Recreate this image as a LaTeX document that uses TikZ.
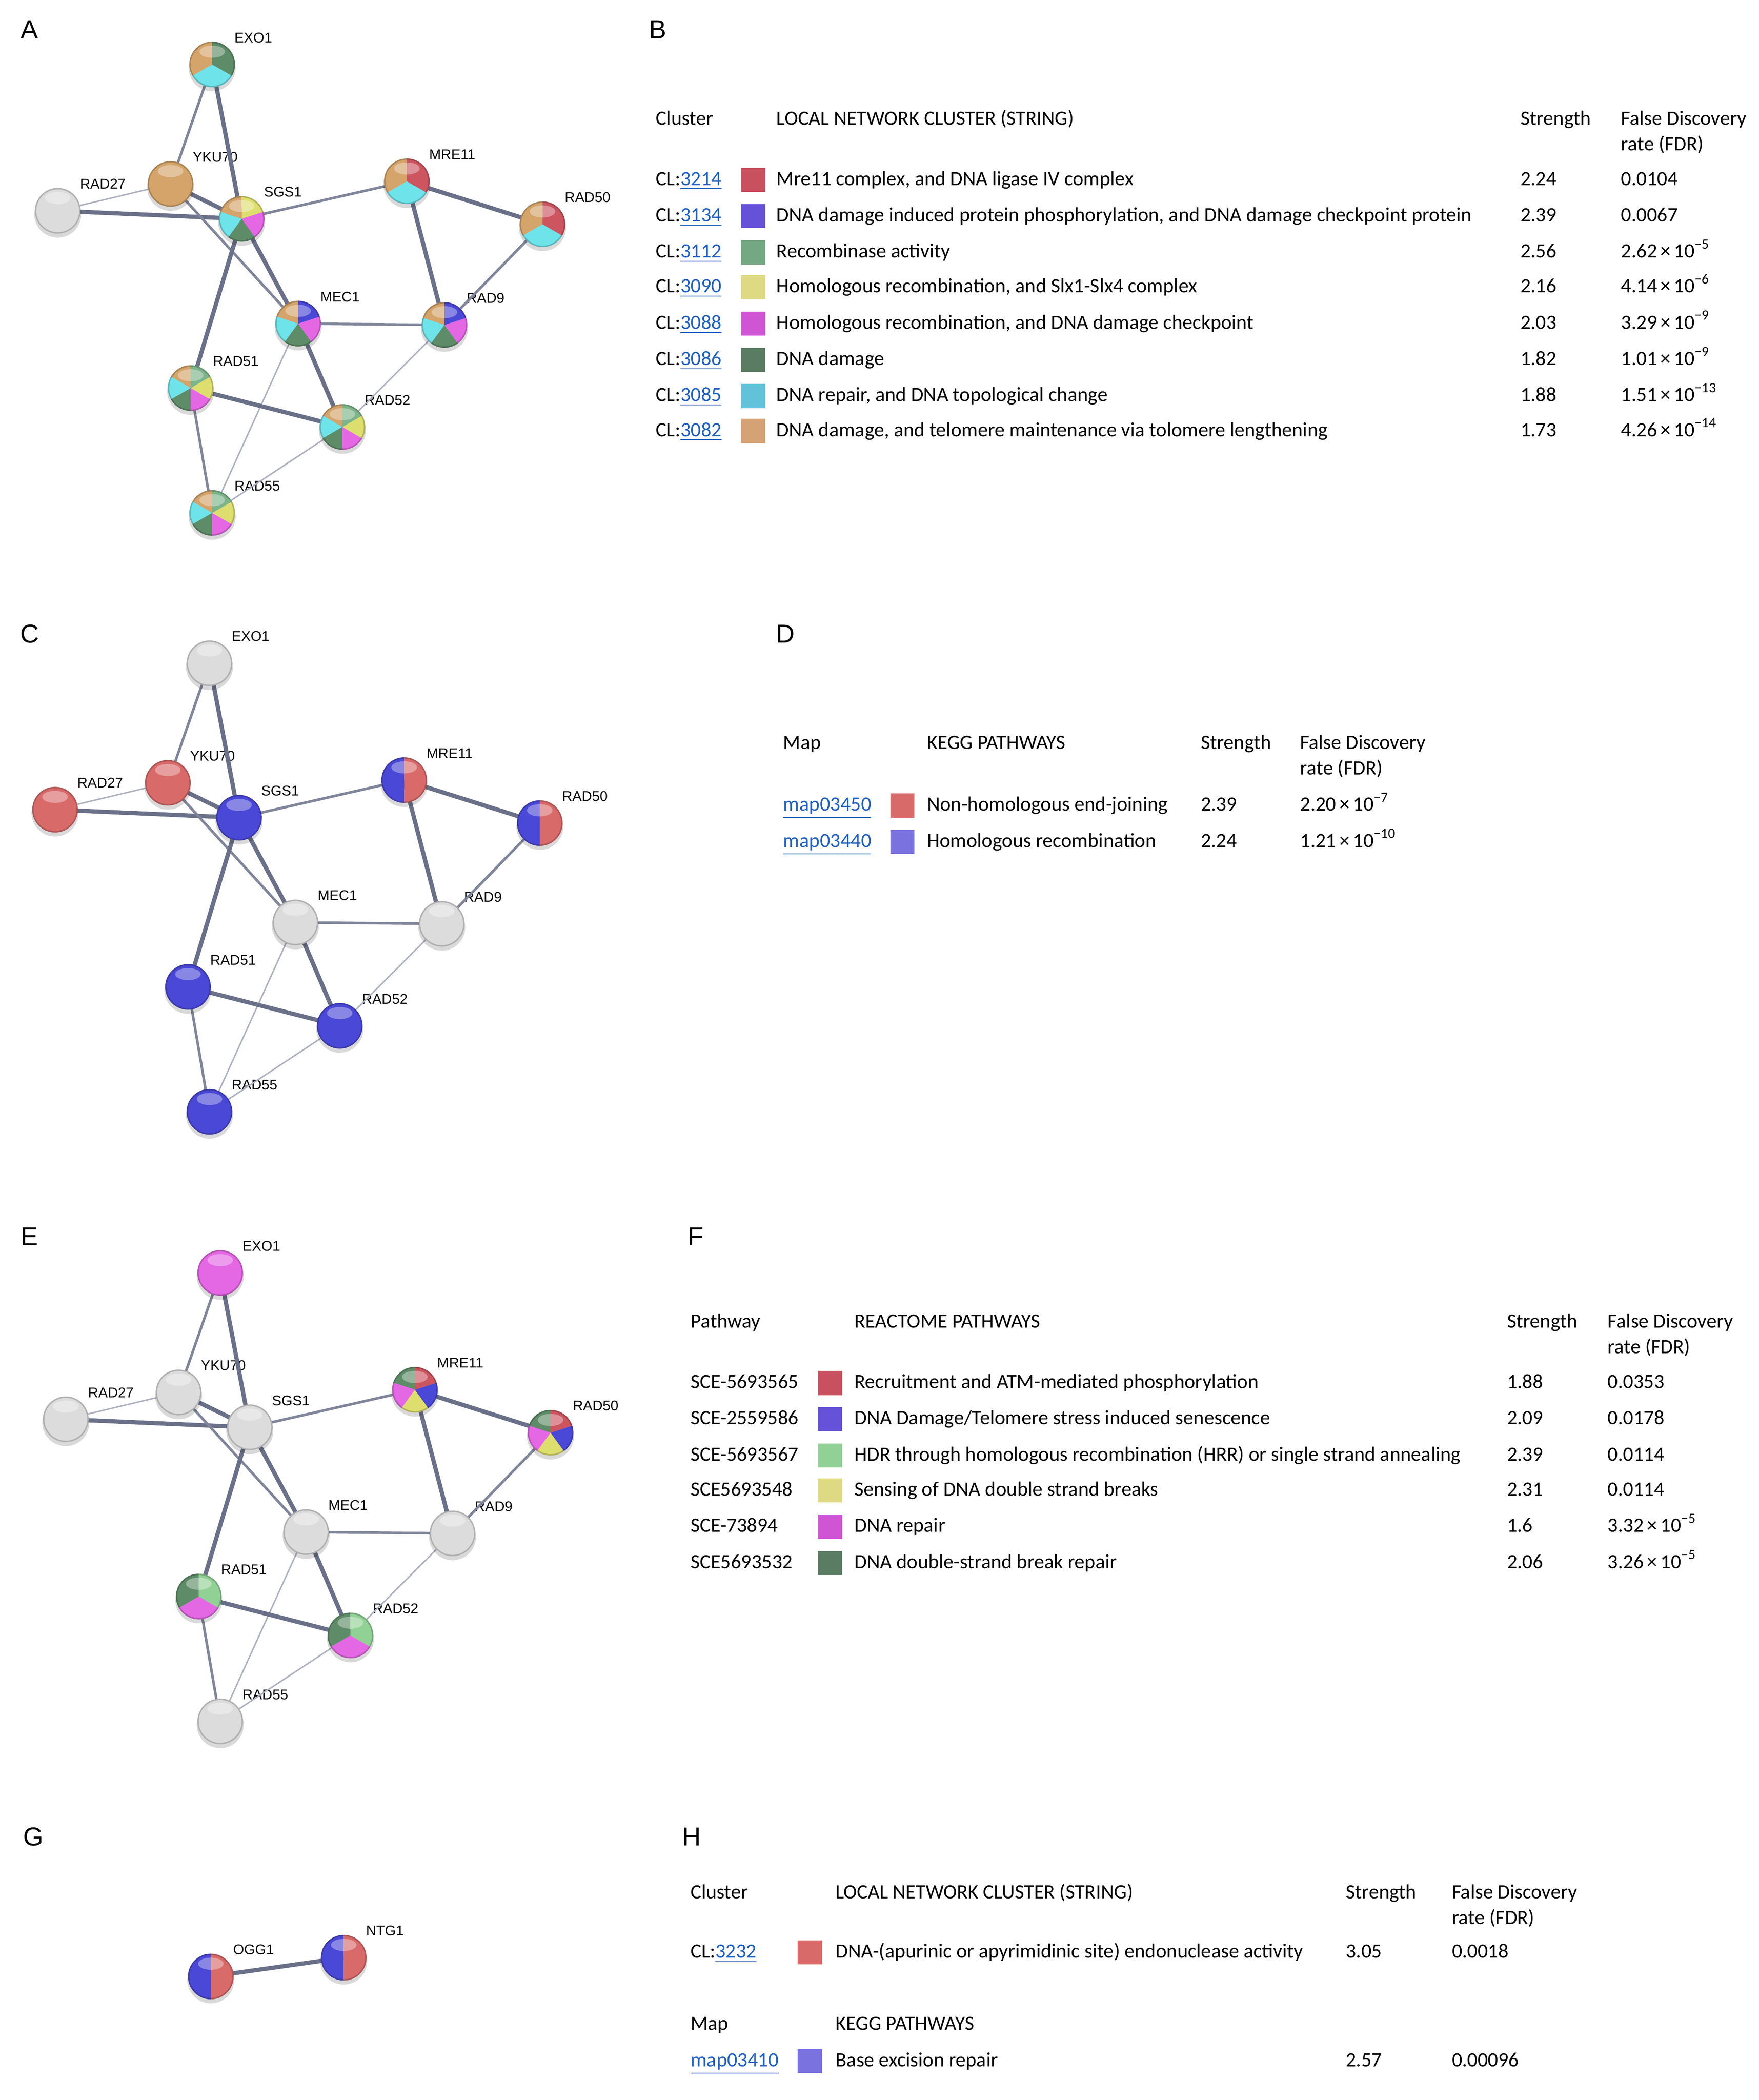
\documentclass[tikz,border=0pt]{standalone}
\usepackage{fontspec}
\setmainfont{Carlito}
\newfontfamily\arialf{Liberation Sans}
\begin{document}
\definecolor{cTan}{HTML}{D4A46A}
\definecolor{cCyan}{HTML}{6FE3EA}
\definecolor{cGreen}{HTML}{7DB48A}
\definecolor{cDkGreen}{HTML}{5E8C68}
\definecolor{cRed}{HTML}{CC5560}
\definecolor{cBlue}{HTML}{4A48D6}
\definecolor{cMag}{HTML}{E467E4}
\definecolor{cYel}{HTML}{DEDE6E}
\definecolor{cGrey}{HTML}{DCDCDC}
\definecolor{sRed}{HTML}{C9505F}
\definecolor{sBlue}{HTML}{6652D8}
\definecolor{sGreen}{HTML}{74A882}
\definecolor{sLGreen}{HTML}{92D196}
\definecolor{sYel}{HTML}{DEDA84}
\definecolor{sMag}{HTML}{D055D4}
\definecolor{sDk}{HTML}{5A7C62}
\definecolor{sCyan}{HTML}{62C2DA}
\definecolor{sTan}{HTML}{D4A274}
\definecolor{kRed}{HTML}{D96A6A}
\definecolor{kBlue}{HTML}{7A72DE}
\definecolor{lnk}{HTML}{1F5FC0}
\definecolor{edge}{HTML}{6A7088}
\def\R{0.34cm}
\begin{tikzpicture}[x=0.02cm,y=-0.02cm,
  nd/.style={circle,inner sep=0pt,minimum size=0.68cm},
  lab/.style={font=\arialf\fontsize{6}{7}\selectfont,anchor=west,inner sep=1pt},
  thick/.style={draw=edge,line width=1.8pt},
  med/.style={draw=edge!85,line width=1.1pt},
  thin/.style={draw=edge!55,line width=0.6pt},
  tx/.style={font=\fontsize{8.6}{10}\selectfont,anchor=base west,inner sep=0pt},
  letter/.style={font=\arialf\fontsize{11}{12}\selectfont,anchor=center},
  sw/.style={minimum size=0.36cm,inner sep=0pt}]
\useasboundingbox (0,0) rectangle (1310,1564);
\fill[white] (0,0) rectangle (1310,1564);

\newcommand\netw[3]{%
 \foreach \n/\x/\y in {EXO1/158/48, YKU70/127/137, RAD27/43/157, SGS1/180/163, MRE11/303/135, RAD50/404/167, MEC1/222/241, RAD9/331/242, RAD51/142/289, RAD52/255/318, RAD55/158/382}{%
   \node[nd] (#1\n) at (\x+#2,\y+#3) {};
   \node[lab] (#1\n-l) at ([xshift=0.29cm,yshift=0.4cm]#1\n.center) {\n};}
 \foreach \a/\b/\w in {EXO1/YKU70/med, EXO1/SGS1/thick, RAD27/YKU70/thin, RAD27/SGS1/thick, YKU70/SGS1/thick, YKU70/MEC1/med, SGS1/MEC1/thick, SGS1/MRE11/med, SGS1/RAD51/thick, MRE11/RAD50/thick, MRE11/RAD9/thick, RAD50/RAD9/med, MEC1/RAD9/med, MEC1/RAD52/thick, MEC1/RAD55/thin, RAD9/RAD52/thin, RAD51/RAD52/thick, RAD51/RAD55/med, RAD52/RAD55/thin}{%
   \draw[\w] (#1\a.center) -- (#1\b.center);}}
\newcommand\pie[2]{%
 \fill[black,opacity=0.15] ([yshift=-0.05cm]#1.center) circle[radius=0.35cm];
 \foreach \a/\b/\c in {#2}{\fill[\c] (#1.center) -- ++(\a:\R) arc[start angle=\a,end angle=\b,radius=\R] -- cycle;}
 \fill[white,opacity=0.35] ([yshift=0.19cm]#1.center) ellipse[x radius=0.19cm,y radius=0.09cm];
 \draw[black,opacity=0.2,line width=0.6pt] (#1.center) circle[radius=0.33cm];}
\newcommand\gball[1]{\pie{#1}{0/360/cGrey}}

% ---------- A ----------
\node[letter] (LA) at (22,22) {A};
\netw{a}{0}{0}
\pie{aEXO1}{90/210/cTan,210/330/cCyan,-30/90/cDkGreen}
\pie{aYKU70}{0/360/cTan}
\gball{aRAD27}
\pie{aSGS1}{90/162/cTan,162/234/cCyan,234/306/cDkGreen,306/378/cMag,18/90/cYel}
\pie{aMRE11}{90/210/cTan,210/330/cCyan,-30/90/cRed}
\pie{aRAD50}{90/210/cTan,210/330/cCyan,-30/90/cRed}
\pie{aMEC1}{90/162/cTan,162/234/cCyan,234/306/cDkGreen,306/378/cMag,18/90/cBlue}
\pie{aRAD9}{90/162/cTan,162/234/cCyan,234/306/cDkGreen,306/378/cMag,18/90/cBlue}
\pie{aRAD51}{90/150/cTan,150/210/cCyan,210/270/cDkGreen,270/330/cMag,330/390/cYel,30/90/cGreen}
\pie{aRAD52}{90/150/cTan,150/210/cCyan,210/270/cDkGreen,270/330/cMag,330/390/cYel,30/90/cGreen}
\pie{aRAD55}{90/150/cTan,150/210/cCyan,210/270/cDkGreen,270/330/cMag,330/390/cYel,30/90/cGreen}

% ---------- B ----------
\node[letter] (LB) at (490,22) {B};
\node[tx] (bh1) at (488,93) {Cluster};
\node[tx] (bh2) at (578,93) {LOCAL NETWORK CLUSTER (STRING)};
\node[tx] (bh3) at (1132,93) {Strength};
\node[tx] (bh4) at (1207,93) {False Discovery};
\node[tx] (bh5) at (1207,112) {rate (FDR)};
\foreach \i/\y/\id/\c/\t/\s/\f in {
 1/134/3214/sRed/{Mre11 complex, and DNA ligase IV complex}/2.24/{0.0104},
 2/161/3134/sBlue/{DNA damage induced protein phosphorylation, and DNA damage checkpoint protein}/2.39/{0.0067},
 3/188/3112/sGreen/{Recombinase activity}/2.56/{2.62\,×\,10\textsuperscript{−5}},
 4/214/3090/sYel/{Homologous recombination, and Slx1-Slx4 complex}/2.16/{4.14\,×\,10\textsuperscript{−6}},
 5/241/3088/sMag/{Homologous recombination, and DNA damage checkpoint}/2.03/{3.29\,×\,10\textsuperscript{−9}},
 6/268/3086/sDk/{DNA damage}/1.82/{1.01\,×\,10\textsuperscript{−9}},
 7/295/3085/sCyan/{DNA repair, and DNA topological change}/1.88/{1.51\,×\,10\textsuperscript{−13}},
 8/321/3082/sTan/{DNA damage, and telomere maintenance via tolomere lengthening}/1.73/{4.26\,×\,10\textsuperscript{−14}}}{
 \node[tx] (b\i a) at (488,\y+4) {CL:\textcolor{lnk}{\underline{\id}}};
 \node[sw,fill=\c] (b\i s) at (561,\y) {};
 \node[tx] (b\i t) at (578,\y+4) {\t};
 \node[tx] (b\i n) at (1132,\y+4) {\s};
 \node[tx] (b\i f) at (1207,\y+4) {\f};}

% ---------- C ----------
\node[letter] (LC) at (22,472) {C};
\netw{c}{-2}{446}
\gball{cEXO1}\gball{cMEC1}\gball{cRAD9}
\pie{cYKU70}{0/360/kRed}\pie{cRAD27}{0/360/kRed}
\pie{cSGS1}{0/360/cBlue}\pie{cRAD51}{0/360/cBlue}\pie{cRAD52}{0/360/cBlue}\pie{cRAD55}{0/360/cBlue}
\pie{cMRE11}{90/270/cBlue,-90/90/kRed}\pie{cRAD50}{90/270/cBlue,-90/90/kRed}

% ---------- D ----------
\node[letter] (LD) at (585,472) {D};
\node[tx] (dh1) at (583,558) {Map};
\node[tx] (dh2) at (690,558) {KEGG PATHWAYS};
\node[tx] (dh3) at (894,558) {Strength};
\node[tx] (dh4) at (968,558) {False Discovery};
\node[tx] (dh5) at (968,577) {rate (FDR)};
\foreach \i/\y/\id/\c/\t/\s/\f in {
 1/600/map03450/kRed/{Non-homologous end-joining}/2.39/{2.20\,×\,10\textsuperscript{−7}},
 2/627/map03440/kBlue/{Homologous recombination}/2.24/{1.21\,×\,10\textsuperscript{−10}}}{
 \node[tx] (d\i a) at (583,\y+4) {\textcolor{lnk}{\underline{\id}}};
 \node[sw,fill=\c] (d\i s) at (672,\y) {};
 \node[tx] (d\i t) at (690,\y+4) {\t};
 \node[tx] (d\i n) at (894,\y+4) {\s};
 \node[tx] (d\i f) at (968,\y+4) {\f};}

% ---------- E ----------
\node[letter] (LE) at (22,921) {E};
\netw{e}{6}{900}
\gball{eYKU70}\gball{eRAD27}\gball{eSGS1}\gball{eMEC1}\gball{eRAD9}\gball{eRAD55}
\pie{eEXO1}{0/360/cMag}
\pie{eRAD51}{90/210/cDkGreen,210/330/cMag,-30/90/sLGreen}
\pie{eRAD52}{90/210/cDkGreen,210/330/cMag,-30/90/sLGreen}
\pie{eMRE11}{90/162/cDkGreen,162/234/cMag,234/306/cYel,306/378/cBlue,18/90/cRed}
\pie{eRAD50}{90/162/cDkGreen,162/234/cMag,234/306/cYel,306/378/cBlue,18/90/cRed}

% ---------- F ----------
\node[letter] (LF) at (518,921) {F};
\node[tx] (fh1) at (514,989) {Pathway};
\node[tx] (fh2) at (636,989) {REACTOME PATHWAYS};
\node[tx] (fh3) at (1122,989) {Strength};
\node[tx] (fh4) at (1197,989) {False Discovery};
\node[tx] (fh5) at (1197,1008) {rate (FDR)};
\foreach \i/\y/\id/\c/\t/\s/\f in {
 1/1030/SCE-5693565/sRed/{Recruitment and ATM-mediated phosphorylation}/1.88/{0.0353},
 2/1057/SCE-2559586/sBlue/{DNA Damage/Telomere stress induced senescence}/2.09/{0.0178},
 3/1084/SCE-5693567/sLGreen/{HDR through homologous recombination (HRR) or single strand annealing}/2.39/{0.0114},
 4/1110/SCE5693548/sYel/{Sensing of DNA double strand breaks}/2.31/{0.0114},
 5/1137/SCE-73894/sMag/{DNA repair}/1.6/{3.32\,×\,10\textsuperscript{−5}},
 6/1164/SCE5693532/sDk/{DNA double-strand break repair}/2.06/{3.26\,×\,10\textsuperscript{−5}}}{
 \node[tx] (f\i a) at (514,\y+4) {\id};
 \node[sw,fill=\c] (f\i s) at (618,\y) {};
 \node[tx] (f\i t) at (636,\y+4) {\t};
 \node[tx] (f\i n) at (1122,\y+4) {\s};
 \node[tx] (f\i f) at (1197,\y+4) {\f};}

% ---------- G ----------
\node[letter] (LG) at (25,1368) {G};
\node[nd] (gOGG1) at (157,1472) {};
\node[nd] (gNTG1) at (256,1458) {};
\node[lab] (gOGG1-l) at ([xshift=0.29cm,yshift=0.4cm]gOGG1.center) {OGG1};
\node[lab] (gNTG1-l) at ([xshift=0.29cm,yshift=0.4cm]gNTG1.center) {NTG1};
\draw[thick] (gOGG1.center) -- (gNTG1.center);
\pie{gOGG1}{90/270/cBlue,-90/90/kRed}
\pie{gNTG1}{90/270/cBlue,-90/90/kRed}

% ---------- H ----------
\node[letter] (LH) at (515,1368) {H};
\node[tx] (hh1) at (514,1414) {Cluster};
\node[tx] (hh2) at (622,1414) {LOCAL NETWORK CLUSTER (STRING)};
\node[tx] (hh3) at (1002,1414) {Strength};
\node[tx] (hh4) at (1081,1414) {False Discovery};
\node[tx] (hh5) at (1081,1433) {rate (FDR)};
\node[tx] (h1a) at (514,1458) {CL:\textcolor{lnk}{\underline{3232}}};
\node[sw,fill=kRed] (h1s) at (603,1454) {};
\node[tx] (h1t) at (622,1458) {DNA-(apurinic or apyrimidinic site) endonuclease activity};
\node[tx] (h1n) at (1002,1458) {3.05};
\node[tx] (h1f) at (1081,1458) {0.0018};
\node[tx] (hm1) at (514,1512) {Map};
\node[tx] (hm2) at (622,1512) {KEGG PATHWAYS};
\node[tx] (h2a) at (514,1539) {\textcolor{lnk}{\underline{map03410}}};
\node[sw,fill=kBlue] (h2s) at (603,1535) {};
\node[tx] (h2t) at (622,1539) {Base excision repair};
\node[tx] (h2n) at (1002,1539) {2.57};
\node[tx] (h2f) at (1081,1539) {0.00096};
\end{tikzpicture}
\end{document}
